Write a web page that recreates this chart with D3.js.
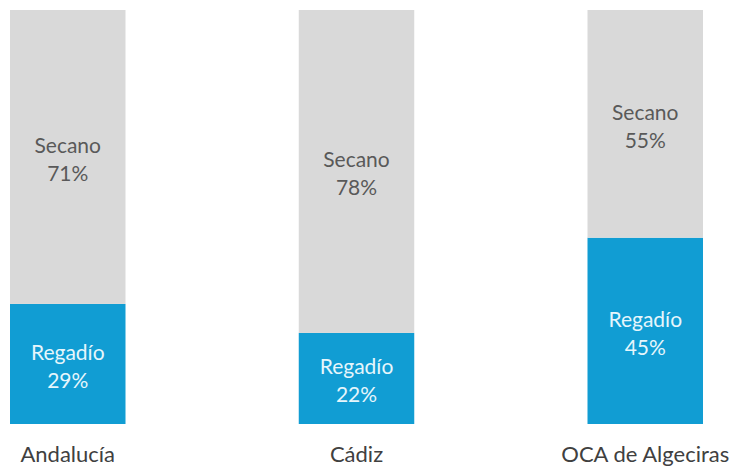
<!DOCTYPE html>
<html>
<head>
<meta charset="utf-8">
<title>Secano / Regadío</title>
<style>
  body { margin: 0; background: #fff; }
  svg { display: block; font-family: Lato, "Open Sans", sans-serif; }
</style>
</head>
<body>
<svg width="730" height="470"></svg>
<script src="https://d3js.org/d3.v7.min.js"></script>
<script>

var categories = ["Andalucía", "Cádiz", "OCA de Algeciras"];
var regadio = [29, 22, 45];
var secano = [71, 78, 55];
var seriesNames = ["Regadío", "Secano"];

var svg = d3.select("svg"),
    plotTop = 10, plotBottom = 424;

var data = categories.map(function(c, i) {
  return {cat: c, "Regadío": regadio[i], "Secano": secano[i]};
});

var x = d3.scaleBand()
    .domain(categories)
    .range([10, 703])
    .paddingInner(0.6)
    .paddingOuter(0);

var y = d3.scaleLinear()
    .domain([0, 100])
    .range([plotBottom, plotTop]);

var color = d3.scaleOrdinal()
    .domain(seriesNames)
    .range(["#119dd3", "#d9d9d9"]);

var textColor = d3.scaleOrdinal()
    .domain(seriesNames)
    .range(["#e6f6fc", "#595959"]);

var stacked = d3.stack().keys(seriesNames)(data);

var layer = svg.selectAll("g.layer")
  .data(stacked)
  .enter().append("g")
    .attr("class", "layer")
    .attr("fill", function(d) { return color(d.key); });

layer.selectAll("rect")
  .data(function(d) { return d; })
  .enter().append("rect")
    .attr("x", function(d) { return x(d.data.cat); })
    .attr("y", function(d) { return y(d[1]); })
    .attr("width", x.bandwidth())
    .attr("height", function(d) { return y(d[0]) - y(d[1]); });

// labels inside each segment
stacked.forEach(function(s) {
  s.forEach(function(d) {
    var cx = x(d.data.cat) + x.bandwidth() / 2,
        cy = (y(d[0]) + y(d[1])) / 2;
    var t = svg.append("text")
        .attr("text-anchor", "middle")
        .attr("fill", textColor(s.key))
        .style("font-size", "21px");
    t.append("tspan").attr("x", cx).attr("y", cy - 4).text(s.key);
    t.append("tspan").attr("x", cx).attr("y", cy + 24).text(d.data[s.key] + "%");
  });
});

svg.append("g")
    .attr("transform", "translate(0," + plotBottom + ")")
    .call(d3.axisBottom(x).tickSize(0).tickPadding(22))
    .call(function(g) { g.select(".domain").remove(); })
    .selectAll("text")
    .attr("fill", "#404040")
    .style("font-size", "22px")
    .style("font-family", "Lato, 'Open Sans', sans-serif");

</script>
</body>
</html>
